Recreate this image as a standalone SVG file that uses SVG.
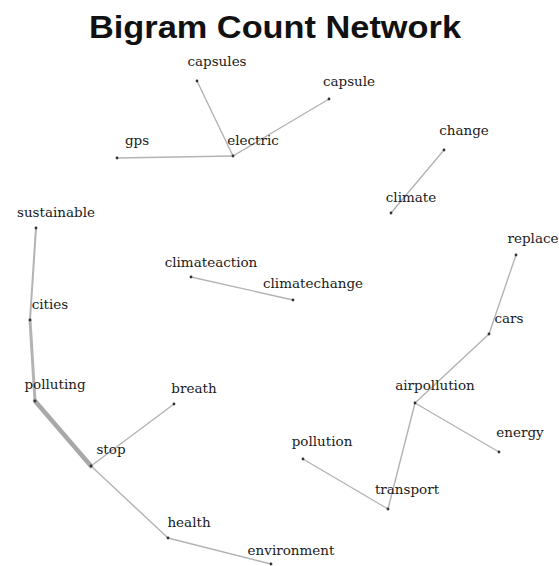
<svg xmlns="http://www.w3.org/2000/svg" width="559" height="566" viewBox="0 0 559 566">
<style>
.title{font-family:"Liberation Sans",Arial,sans-serif;font-weight:bold;font-size:32px;fill:#111}
.lbl{font-family:"DejaVu Serif",serif;font-size:13.5px;fill:#1a1a1a;text-anchor:middle}
.e{stroke:#b3b3b3;stroke-width:1.4;fill:none;stroke-linecap:round}
.dot{fill:#333}
</style>
<rect width="559" height="566" fill="#fff"/>
<text class="title" x="89" y="38" textLength="372" lengthAdjust="spacingAndGlyphs">Bigram Count Network</text>
<g id="edges">
<line class="e" x1="197" y1="81" x2="233" y2="156"/>
<line class="e" x1="329" y1="99" x2="233" y2="156"/>
<line class="e" x1="117" y1="158" x2="233" y2="156"/>
<line class="e" x1="444" y1="150" x2="391" y2="213"/>
<line class="e" x1="36" y1="228" x2="30" y2="320" style="stroke-width:2"/>
<line class="e" x1="30" y1="320" x2="35" y2="401" style="stroke-width:3"/>
<line class="e" x1="35" y1="401" x2="91" y2="466" style="stroke-width:4.5;stroke:#a8a8a8"/>
<line class="e" x1="91" y1="466" x2="174" y2="404"/>
<line class="e" x1="91" y1="466" x2="168" y2="538"/>
<line class="e" x1="168" y1="538" x2="271" y2="564"/>
<line class="e" x1="191" y1="277" x2="293" y2="300"/>
<line class="e" x1="516" y1="255" x2="489" y2="334"/>
<line class="e" x1="489" y1="334" x2="415" y2="403"/>
<line class="e" x1="415" y1="403" x2="499" y2="452"/>
<line class="e" x1="415" y1="403" x2="388" y2="509"/>
<line class="e" x1="303" y1="459" x2="388" y2="509"/>
</g>
<g id="capsules"><circle class="dot" cx="197" cy="81" r="1.4"/><text class="lbl" x="217" y="66">capsules</text></g>
<g id="capsule"><circle class="dot" cx="329" cy="99" r="1.4"/><text class="lbl" x="349" y="86">capsule</text></g>
<g id="electric"><circle class="dot" cx="233" cy="156" r="1.4"/><text class="lbl" x="253" y="145">electric</text></g>
<g id="gps"><circle class="dot" cx="117" cy="158" r="1.4"/><text class="lbl" x="137" y="145">gps</text></g>
<g id="change"><circle class="dot" cx="444" cy="150" r="1.4"/><text class="lbl" x="464" y="135">change</text></g>
<g id="climate"><circle class="dot" cx="391" cy="213" r="1.4"/><text class="lbl" x="411" y="202">climate</text></g>
<g id="sustainable"><circle class="dot" cx="36" cy="228" r="1.4"/><text class="lbl" x="56" y="217">sustainable</text></g>
<g id="cities"><circle class="dot" cx="30" cy="320" r="1.4"/><text class="lbl" x="50" y="309">cities</text></g>
<g id="polluting"><circle class="dot" cx="35" cy="401" r="1.4"/><text class="lbl" x="55" y="389">polluting</text></g>
<g id="breath"><circle class="dot" cx="174" cy="404" r="1.4"/><text class="lbl" x="194" y="393">breath</text></g>
<g id="stop"><circle class="dot" cx="91" cy="466" r="1.4"/><text class="lbl" x="111" y="454">stop</text></g>
<g id="health"><circle class="dot" cx="168" cy="538" r="1.4"/><text class="lbl" x="189" y="527">health</text></g>
<g id="environment"><circle class="dot" cx="271" cy="564" r="1.4"/><text class="lbl" x="291" y="555">environment</text></g>
<g id="climateaction"><circle class="dot" cx="191" cy="277" r="1.4"/><text class="lbl" x="211" y="267">climateaction</text></g>
<g id="climatechange"><circle class="dot" cx="293" cy="300" r="1.4"/><text class="lbl" x="313" y="288">climatechange</text></g>
<g id="replace"><circle class="dot" cx="516" cy="255" r="1.4"/><text class="lbl" x="533" y="243">replace</text></g>
<g id="cars"><circle class="dot" cx="489" cy="334" r="1.4"/><text class="lbl" x="509" y="323">cars</text></g>
<g id="airpollution"><circle class="dot" cx="415" cy="403" r="1.4"/><text class="lbl" x="435" y="390">airpollution</text></g>
<g id="energy"><circle class="dot" cx="499" cy="452" r="1.4"/><text class="lbl" x="520" y="437">energy</text></g>
<g id="pollution"><circle class="dot" cx="303" cy="459" r="1.4"/><text class="lbl" x="322" y="446">pollution</text></g>
<g id="transport"><circle class="dot" cx="388" cy="509" r="1.4"/><text class="lbl" x="407" y="494">transport</text></g>
</svg>
